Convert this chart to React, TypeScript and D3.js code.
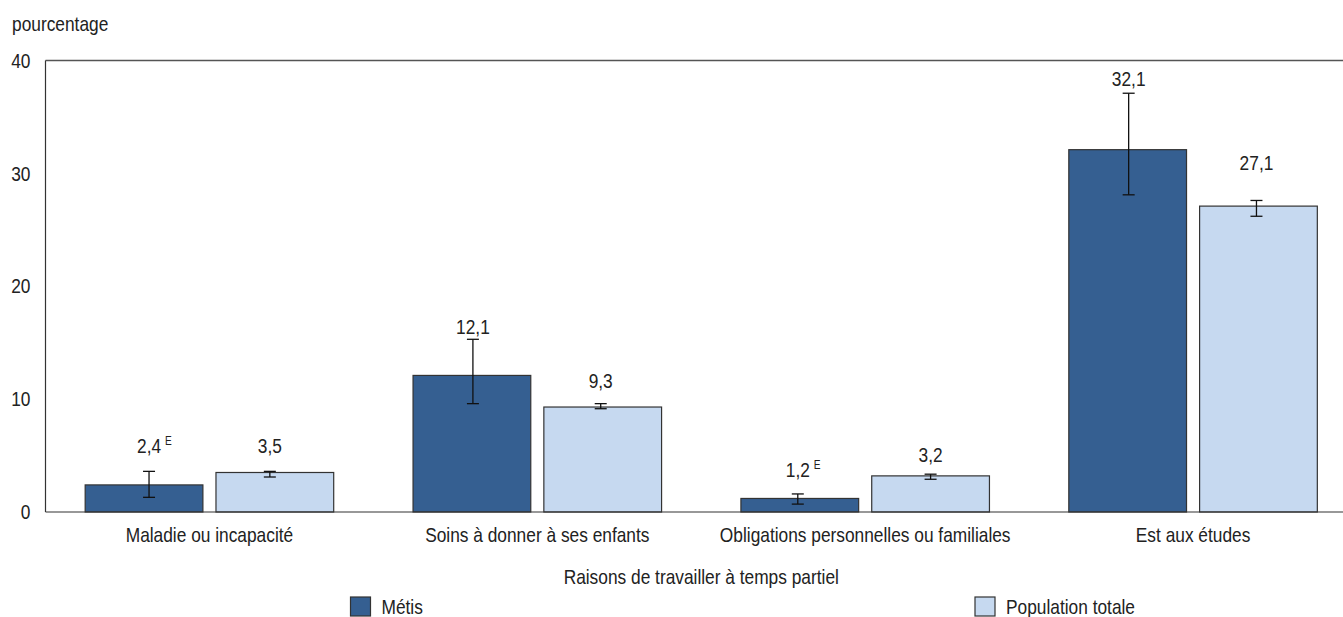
import React from "react";
import * as d3 from "d3";

const categories = [
  "Maladie ou incapacité",
  "Soins à donner à ses enfants",
  "Obligations personnelles ou familiales",
  "Est aux études",
];
const seriesNames = ["Métis", "Population totale"];
const metisValues = [2.4, 12.1, 1.2, 32.1];
const metisLow = [1.3, 9.6, 0.7, 28.1];
const metisHigh = [3.6, 15.3, 1.6, 37.1];
const metisLabels = ["2,4", "12,1", "1,2", "32,1"];
const metisFlags = ["E", "", "E", ""];
const metisLabelAt = [5.85, 16.4, 3.78, 38.35];
const popValues = [3.5, 9.3, 3.2, 27.1];
const popLow = [3.1, 9.15, 2.9, 26.2];
const popHigh = [3.6, 9.6, 3.35, 27.6];
const popLabels = ["3,5", "9,3", "3,2", "27,1"];
const popLabelAt = [5.85, 11.6, 5.05, 30.9];
const yTicks = [0, 10, 20, 30, 40];

// layout nudges of the error bars (px), as seen in the original (first group only)
const ERR_NUDGE = [
  [5, -5],
  [1, -2],
  [-2, 0],
  [1, -2],
];

const W = 1343;
const H = 617;
const FONT = "'Liberation Sans', Arial, sans-serif";
const TEXT = "#222";
const COLORS = ["#355f91", "#c6d9f0"];
const STROKE = "#333";
const SX = 0.845;
const FS = 20.5;

function T({ x, y, anchor = "start", size = FS, children }: { x: number; y: number; anchor?: string; size?: number; children: React.ReactNode }) {
  return (
    <text transform={`translate(${x},${y}) scale(${SX},1)`} dy="0.35em" textAnchor={anchor} fontSize={size} fill={TEXT}>
      {children}
    </text>
  );
}

export default function App() {
  const left = 45.5;
  const right = 1357;
  const top = 60.5;
  const bottom = 512;

  const x0 = d3.scaleBand<string>().domain(categories).range([left, right]).paddingInner(0.242).paddingOuter(0.121);
  const x1 = d3.scaleBand<string>().domain(seriesNames).range([0, x0.bandwidth()]).paddingInner(0.1);
  const y = d3.scaleLinear().domain([0, 40]).range([bottom, top]);

  const series = [
    { name: seriesNames[0], values: metisValues, low: metisLow, high: metisHigh, labels: metisLabels, flags: metisFlags, labelAt: metisLabelAt },
    { name: seriesNames[1], values: popValues, low: popLow, high: popHigh, labels: popLabels, flags: ["", "", "", ""], labelAt: popLabelAt },
  ];

  return (
    <svg width={W} height={H} style={{ position: "absolute", left: 0, top: 0, display: "block" }} fontFamily={FONT}>
      <T x={12} y={24}>pourcentage</T>
      {yTicks.map((t) => (
        <T key={t} x={30.5} y={y(t)} anchor="end">{t}</T>
      ))}
      {categories.map((c, i) => (
        <g key={c}>
          {series.map((s, j) => {
            const bx = x0(c)! + x1(s.name)!;
            const bw = x1.bandwidth();
            const cx = bx + bw / 2 + ERR_NUDGE[i][j];
            return (
              <g key={s.name}>
                <rect x={bx} y={y(s.values[i])} width={bw} height={y(0) - y(s.values[i])} fill={COLORS[j]} stroke={STROKE} strokeWidth={1.2} />
                <line x1={cx} x2={cx} y1={y(s.low[i])} y2={y(s.high[i])} stroke="#111" strokeWidth={1.3} />
                <line x1={cx - 6} x2={cx + 6} y1={y(s.low[i])} y2={y(s.low[i])} stroke="#111" strokeWidth={1.3} />
                <line x1={cx - 6} x2={cx + 6} y1={y(s.high[i])} y2={y(s.high[i])} stroke="#111" strokeWidth={1.3} />
                <T x={cx} y={y(s.labelAt[i])} anchor="middle">{s.labels[i]}</T>
                {s.flags[i] ? (
                  <T x={cx + 16} y={y(s.labelAt[i]) - 5} size={12}>{s.flags[i]}</T>
                ) : null}
              </g>
            );
          })}
          <T x={x0(c)! + x0.bandwidth() / 2} y={535} anchor="middle">{c}</T>
        </g>
      ))}
      <line x1={left} x2={W} y1={top} y2={top} stroke="#555" strokeWidth={1.5} />
      <line x1={left} x2={left} y1={top} y2={bottom} stroke="#333" strokeWidth={1.2} />
      <line x1={left} x2={W} y1={bottom} y2={bottom} stroke="#333" strokeWidth={1.2} />
      <T x={(left + right) / 2} y={577} anchor="middle">Raisons de travailler à temps partiel</T>
      {[350.5, 975].map((lx, j) => (
        <g key={seriesNames[j]}>
          <rect x={lx} y={597} width={20} height={19} fill={COLORS[j]} stroke={STROKE} strokeWidth={1.2} />
          <T x={lx + 31} y={607}>{seriesNames[j]}</T>
        </g>
      ))}
    </svg>
  );
}
